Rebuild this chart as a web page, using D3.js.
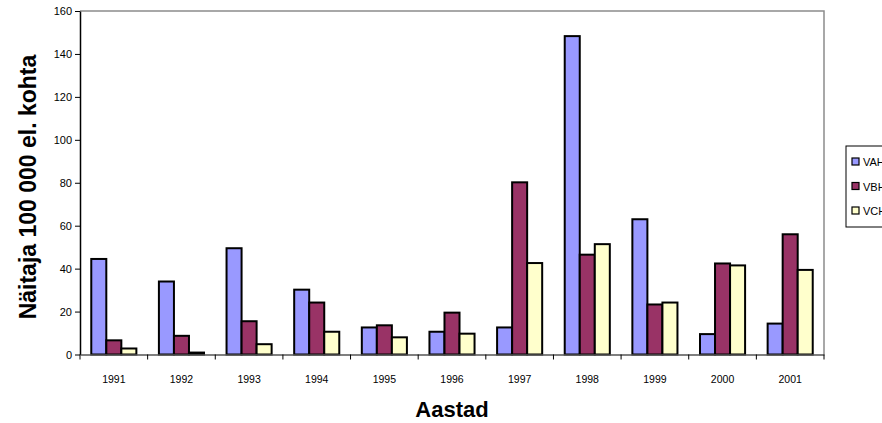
<!DOCTYPE html>
<html>
<head>
<meta charset="utf-8">
<script src="https://cdn.jsdelivr.net/npm/d3@7"></script>
<style>
  html, body { margin: 0; padding: 0; background: #fff; overflow: hidden; }
  svg { display: block; }
</style>
</head>
<body>
<svg id="chart" width="882" height="423"></svg>
<script>
// Incidence per 100 000 inhabitants, by year and hepatitis type
const years = ["1991","1992","1993","1994","1995","1996","1997","1998","1999","2000","2001"];
const seriesNames = ["VAH", "VBH", "VCH"];
const vaValues = [44.5, 34, 49.5, 30.2, 12.6, 10.6, 12.6, 148.3, 63, 9.5, 14.4];
const vbValues = [6.6, 8.7, 15.5, 24.2, 13.6, 19.5, 80.2, 46.5, 23.3, 42.4, 56];
const vcValues = [2.8, 0.9, 4.8, 10.6, 8, 9.7, 42.6, 51.4, 24.2, 41.5, 39.4];
const yTicks = [0, 20, 40, 60, 80, 100, 120, 140, 160];
const seriesColors = ["#9999FF", "#993366", "#FFFFCC"];

const allSeries = [vaValues, vbValues, vcValues];

const svg = d3.select("#chart");
const plot = { left: 80, right: 824, top: 11, bottom: 354.5 };

const x = d3.scaleBand().domain(years).range([plot.left, plot.right]).paddingInner(0).paddingOuter(0);
// three bars per year with a gap of 1.5 bar widths between groups
const x1 = d3.scaleBand().domain(d3.range(seriesNames.length))
  .range([0, x.bandwidth()]).paddingInner(0).paddingOuter(0.75);
const y = d3.scaleLinear().domain([0, 160]).range([plot.bottom, plot.top]);

// plot frame: grey top and right edges
svg.append("path")
  .attr("d", `M${plot.left},${plot.top}H${plot.right}V${plot.bottom}`)
  .attr("fill", "none").attr("stroke", "#8c8c8c").attr("stroke-width", 1.5);

// bars
const groups = svg.append("g").selectAll("g")
  .data(years).join("g")
  .attr("transform", d => `translate(${x(d)},0)`);

groups.selectAll("rect")
  .data((d, i) => allSeries.map((s, k) => ({ k, v: s[i] })))
  .join("rect")
  .attr("x", d => x1(d.k))
  .attr("width", x1.bandwidth())
  .attr("y", d => y(d.v))
  .attr("height", d => y(0) - y(d.v))
  .attr("fill", d => seriesColors[d.k])
  .attr("stroke", "#000")
  .attr("stroke-width", 2);

// y axis
const yAxis = svg.append("g")
  .attr("transform", `translate(${plot.left},0)`)
  .call(d3.axisLeft(y).tickValues(yTicks).tickSize(5).tickSizeOuter(0));
yAxis.select(".domain").attr("stroke", "#000").attr("stroke-width", 1.5);
yAxis.selectAll(".tick line").attr("stroke", "#000");
yAxis.selectAll("text")
  .attr("font-family", "Liberation Sans, Arial, sans-serif")
  .attr("font-size", 11).attr("fill", "#000").attr("x", -8);

// x axis: category labels, tick marks between groups
const xAxis = svg.append("g")
  .attr("transform", `translate(0,${plot.bottom})`)
  .call(d3.axisBottom(x).tickSize(0).tickSizeOuter(0));
xAxis.select(".domain").attr("stroke", "#555").attr("stroke-width", 1.5);
xAxis.selectAll("text")
  .attr("font-family", "Liberation Sans, Arial, sans-serif")
  .attr("font-size", 10.5).attr("fill", "#000").attr("y", 28.5).attr("dy", "0");
svg.append("g").selectAll("line")
  .data(years.concat(["end"]))
  .join("line")
  .attr("x1", (d, i) => i < years.length ? x(d) : plot.right)
  .attr("x2", (d, i) => i < years.length ? x(d) : plot.right)
  .attr("y1", plot.bottom).attr("y2", plot.bottom + 5)
  .attr("stroke", "#000").attr("stroke-width", 1);

// axis titles
svg.append("text")
  .attr("x", 452)
  .attr("y", 417)
  .attr("text-anchor", "middle")
  .attr("font-family", "Liberation Sans, Arial, sans-serif")
  .attr("font-weight", "bold").attr("font-size", 22)
  .text("Aastad");

svg.append("text")
  .attr("transform", `translate(36,187) rotate(-90)`)
  .attr("text-anchor", "middle")
  .attr("font-family", "Liberation Sans, Arial, sans-serif")
  .attr("font-weight", "bold").attr("font-size", 23)
  .text("Näitaja 100 000 el. kohta");

// legend
const legend = svg.append("g").attr("transform", "translate(846,146)");
legend.append("rect")
  .attr("width", 60).attr("height", 81)
  .attr("fill", "#fff").attr("stroke", "#000").attr("stroke-width", 1);
const items = legend.selectAll("g.item")
  .data(seriesNames).join("g").attr("class", "item")
  .attr("transform", (d, i) => `translate(6,${16 + i * 24.5})`);
items.append("rect")
  .attr("x", 0).attr("y", -4).attr("width", 7).attr("height", 7)
  .attr("fill", (d, i) => seriesColors[i]).attr("stroke", "#000").attr("stroke-width", 1.2);
items.append("text")
  .attr("x", 11).attr("y", 4)
  .attr("font-family", "Liberation Sans, Arial, sans-serif")
  .attr("font-size", 11)
  .text(d => d);
</script>
</body>
</html>
